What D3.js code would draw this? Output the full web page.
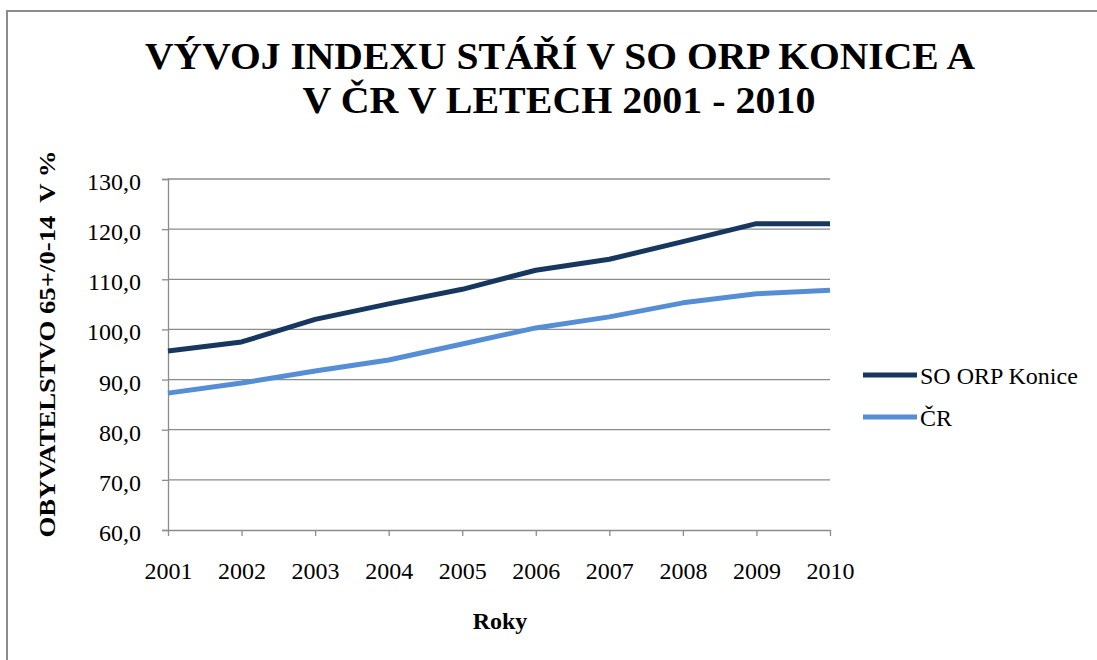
<!DOCTYPE html>
<html>
<head>
  <meta charset="utf-8">
  <title>Index stáří</title>
  <script src="https://d3js.org/d3.v7.min.js"></script>
  <style>
    body { margin: 0; background: #fff; }
  </style>
</head>
<body>
  <script>
    var years = [2001, 2002, 2003, 2004, 2005, 2006, 2007, 2008, 2009, 2010];
    var konice = [95.7, 97.5, 102.0, 105.1, 108.0, 111.8, 114.0, 117.5, 121.1, 121.1];
    var cr = [87.3, 89.3, 91.7, 93.9, 97.1, 100.3, 102.5, 105.3, 107.1, 107.8];
    var yTicks = [60, 70, 80, 90, 100, 110, 120, 130];
    var seriesNames = ['SO ORP Konice', 'ČR'];
    var seriesColors = ['#17375e', '#558ed5'];

    var FONT = "'Liberation Serif', 'Times New Roman', Tinos, 'DejaVu Serif', serif";
    var width = 1097, height = 660;
    var svg = d3.select('body').append('svg')
      .attr('width', width)
      .attr('height', height)
      .attr('font-family', FONT);

    // chart frame (right and bottom edges run off the page)
    svg.append('rect')
      .attr('x', 7).attr('y', 11)
      .attr('width', 1200).attr('height', 700)
      .attr('fill', 'none')
      .attr('stroke', '#8c8c8c')
      .attr('stroke-width', 2);

    var x = d3.scalePoint().domain(years).range([168, 830]);
    var y = d3.scaleLinear().domain([60, 130]).range([530, 179]);

    // gridlines
    svg.append('g').selectAll('line')
      .data(yTicks.slice(1))
      .enter().append('line')
      .attr('x1', 168).attr('x2', 830)
      .attr('y1', function(d) { return y(d); })
      .attr('y2', function(d) { return y(d); })
      .attr('stroke', '#8c8c8c')
      .attr('stroke-width', 1.3);

    var yAxis = svg.append('g')
      .attr('transform', 'translate(168,0)')
      .call(d3.axisLeft(y).tickValues(yTicks).tickSize(6).tickPadding(21)
        .tickFormat(function(d) { return d.toFixed(1).replace('.', ','); }))
      .attr('font-family', FONT)
      .attr('font-size', 24);
    yAxis.select('.domain').attr('stroke', '#8c8c8c').attr('stroke-width', 1.3);
    yAxis.selectAll('.tick line').attr('stroke', '#8c8c8c').attr('stroke-width', 1.3);
    yAxis.selectAll('text').attr('fill', '#000').attr('dy', '0.44em');

    var xAxis = svg.append('g')
      .attr('transform', 'translate(0,530)')
      .call(d3.axisBottom(x).tickSize(6).tickPadding(26).tickSizeOuter(0))
      .attr('font-family', FONT)
      .attr('font-size', 24);
    xAxis.select('.domain').attr('stroke', '#8c8c8c').attr('stroke-width', 1.3);
    xAxis.selectAll('.tick line').attr('stroke', '#8c8c8c').attr('stroke-width', 1.3);
    xAxis.selectAll('text').attr('fill', '#000');

    var line = d3.line()
      .x(function(d, i) { return x(years[i]); })
      .y(function(d) { return y(d); });

    [konice, cr].forEach(function(vals, i) {
      svg.append('path')
        .datum(vals)
        .attr('d', line)
        .attr('fill', 'none')
        .attr('stroke', seriesColors[i])
        .attr('stroke-width', 5)
        .attr('stroke-linejoin', 'round');
    });

    // title
    var title = svg.append('text')
      .attr('text-anchor', 'middle')
      .attr('font-size', 38)
      .attr('font-weight', 'bold');
    title.append('tspan').attr('x', 560).attr('y', 69)
      .attr('textLength', 830).attr('lengthAdjust', 'spacingAndGlyphs')
      .text('VÝVOJ INDEXU STÁŘÍ V SO ORP KONICE A');
    title.append('tspan').attr('x', 559).attr('y', 113)
      .attr('textLength', 513).attr('lengthAdjust', 'spacingAndGlyphs')
      .text('V ČR V LETECH 2001 - 2010');

    svg.append('text')
      .attr('transform', 'translate(55,344) rotate(-90)')
      .attr('text-anchor', 'middle')
      .attr('font-size', 24)
      .attr('font-weight', 'bold')
      .attr('textLength', 387)
      .attr('lengthAdjust', 'spacingAndGlyphs')
      .style('white-space', 'pre')
      .text('OBYVATELSTVO 65+/0-14  V %');

    svg.append('text')
      .attr('x', 500).attr('y', 629)
      .attr('text-anchor', 'middle')
      .attr('font-size', 24)
      .attr('font-weight', 'bold')
      .text('Roky');

    // legend
    var legend = svg.append('g').selectAll('g')
      .data(seriesNames)
      .enter().append('g')
      .attr('transform', function(d, i) { return 'translate(863,' + (375 + i * 42) + ')'; });
    legend.append('line')
      .attr('x1', 0).attr('x2', 54)
      .attr('stroke', function(d, i) { return seriesColors[i]; })
      .attr('stroke-width', 5);
    legend.append('text')
      .attr('x', 57).attr('y', 9)
      .attr('font-size', 24)
      .text(function(d) { return d; });
  </script>
</body>
</html>
